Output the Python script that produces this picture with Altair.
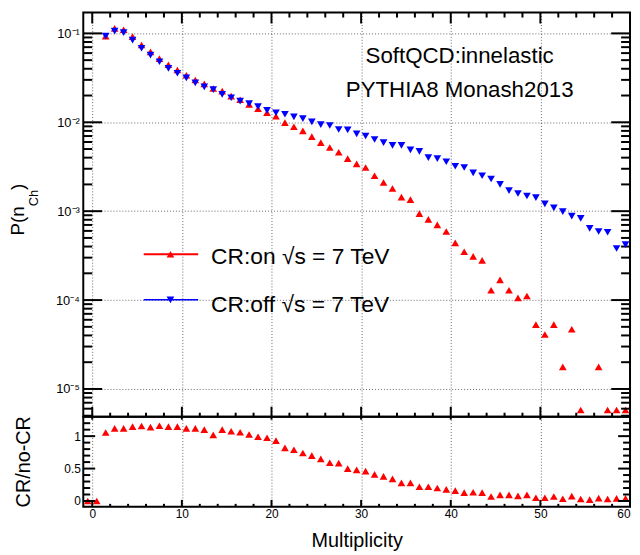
import altair as alt
import pandas as pd

# ---------------- data ----------------
multiplicity = [1.5, 2.5, 3.5, 4.5, 5.5, 6.5, 7.5, 8.5, 9.5,
                10.5, 11.5, 12.5, 13.5, 14.5, 15.5, 16.5, 17.5, 18.5, 19.5,
                20.5, 21.5, 22.5, 23.5, 24.5, 25.5, 26.5, 27.5, 28.5, 29.5,
                30.5, 31.5, 32.5, 33.5, 34.5, 35.5, 36.5, 37.5, 38.5, 39.5,
                40.5, 41.5, 42.5, 43.5, 44.5, 45.5, 46.5, 47.5, 48.5, 49.5,
                50.5, 51.5, 52.5, 53.5, 54.5, 55.5, 56.5, 57.5, 58.5, 59.5]

p_cr_on = [0.093, 0.114, 0.110, 0.092, 0.074, 0.062, 0.052, 0.0444, 0.0387,
           0.0338, 0.0299, 0.0270, 0.0240, 0.0224, 0.0197, 0.0179, 0.0159, 0.0142, 0.0128,
           0.0117, 0.0099, 0.0089, 0.0080, 0.0069, 0.0059, 0.0052, 0.0046, 0.0039, 0.0034,
           0.0031, 0.0025, 0.0021, 0.0018, 0.00144, 0.00135, 0.00094, 0.00081, 0.00070, 0.00059,
           0.00044, 0.00035, 0.00031, 0.00028, 0.000129, 0.000169, 0.000129, 0.000106, 0.000111, 5.3e-5,
           4.1e-5, 5.3e-5, 1.77e-5, 4.7e-5, 5.8e-6, None, 1.77e-5, 5.8e-6, 5.8e-6, 5.8e-6]

p_cr_off = [0.093, 0.106, 0.102, 0.084, 0.068, 0.057, 0.048, 0.0404, 0.0356,
            0.0316, 0.0277, 0.0250, 0.0233, 0.0206, 0.0189, 0.0173, 0.0162, 0.0150, 0.0136,
            0.0128, 0.0123, 0.0115, 0.0110, 0.0101, 0.0094, 0.0092, 0.0083, 0.0082, 0.0074,
            0.0070, 0.0064, 0.0059, 0.0055, 0.0055, 0.0049, 0.0047, 0.0040, 0.0039, 0.0036,
            0.0032, 0.0031, 0.0027, 0.0025, 0.0023, 0.0020, 0.00170, 0.00158, 0.00148, 0.00142,
            0.00121, 0.00109, 0.00099, 0.00088, 0.00083, 0.00064, 0.00059, 0.00058, 0.00038, 0.00042]

ratio_multiplicity = [-0.5, 0.5] + multiplicity
ratio_values = [0.0, 0.0,
                1.056, 1.12, 1.12, 1.147, 1.156, 1.14, 1.16, 1.147, 1.147,
                1.12, 1.12, 1.10, 1.02, 1.10, 1.075, 1.06, 1.025, 0.99, 0.975,
                0.93, 0.82, 0.79, 0.74, 0.70, 0.65, 0.59, 0.585, 0.50, 0.48,
                0.46, 0.41, 0.38, 0.34, 0.28, 0.28, 0.22, 0.22, 0.20, 0.18,
                0.16, 0.13, 0.135, 0.13, 0.07, 0.095, 0.095, 0.08, 0.095, 0.05,
                0.05, 0.07, 0.035, 0.076, 0.03, 0.02, 0.045, 0.03, 0.04, 0.04]

x_major_ticks = [0, 10, 20, 30, 40, 50, 60]
x_minor_ticks = [2, 4, 6, 8, 12, 14, 16, 18, 22, 24, 26, 28, 32, 34, 36, 38,
                 42, 44, 46, 48, 52, 54, 56, 58]
y_major_ticks = [1e-5, 1e-4, 1e-3, 1e-2, 1e-1]
y_minor_ticks = [m * d for d in [1e-6, 1e-5, 1e-4, 1e-3, 1e-2, 1e-1] for m in range(2, 10)]
ratio_major_ticks = [0, 0.5, 1]
ratio_minor_ticks = [0.1, 0.2, 0.3, 0.4, 0.6, 0.7, 0.8, 0.9, 1.1, 1.2]

legend_labels = ["CR:on \u221as = 7 TeV", "CR:off \u221as = 7 TeV"]
annotation_lines = ["SoftQCD:innelastic", "PYTHIA8 Monash2013"]
y_title_parts = ["P(n", "Ch", ")"]
ratio_title = "CR/no-CR"
x_title = "Multiplicity"

# ---------------- layout ----------------
W = 552
H_TOP = 408
H_RAT = 91
FONT = "Liberation Sans"
RED = "#ff0000"
BLUE = "#0000ff"
MSIZE = 60

Y_LO, Y_HI = 10 ** -5.312, 10 ** -0.766
y_minor_ticks = [v for v in y_minor_ticks if Y_LO < v < Y_HI]

xs = alt.Scale(domain=[-1, 60], nice=False, zero=False)
ys = alt.Scale(type="log", domain=[Y_LO, Y_HI], nice=False)
rs = alt.Scale(domain=[-0.09, 1.30], nice=False, zero=False)

grid_style = dict(grid=True, gridColor="#000000", gridOpacity=0.6,
                  gridDash=[1, 2], gridWidth=1)

top_df = pd.DataFrame({"m": multiplicity, "on": p_cr_on, "off": p_cr_off})
rat_df = pd.DataFrame({"m": ratio_multiplicity, "r": ratio_values})

label_expr_top = ("datum.value > 0.05 ? '10\u207b\u00b9' : datum.value > 0.005 ? '10\u207b\u00b2' : "
                  "datum.value > 0.0005 ? '10\u207b\u00b3' : datum.value > 0.00005 ? '10\u207b\u2074' : '10\u207b\u2075'")

x_axis_top = alt.Axis(values=x_major_ticks, labels=False, ticks=False, tickSize=0,
                      domain=False, title=None, **grid_style)
y_axis_top = alt.Axis(values=y_major_ticks, ticks=False, tickSize=0, domain=False, title=None,
                      labelExpr=label_expr_top, labelFontSize=13, labelPadding=4,
                      labelColor="black", **grid_style)

x_axis_rat = alt.Axis(values=x_major_ticks, ticks=False, tickSize=0, domain=False,
                      labelFontSize=12, labelPadding=2, labelColor="black", labelFlush=1,
                      title=x_title, titleFontSize=20, titleFontWeight="normal",
                      titleColor="black", titlePadding=11, **grid_style)
y_axis_rat = alt.Axis(values=ratio_major_ticks, ticks=False, tickSize=0, domain=False,
                      grid=False, labelFontSize=12, labelPadding=3, labelColor="black",
                      labelExpr="'' + datum.value", title=None)


def hticks(values, scale, axis, x0, x1):
    df = pd.DataFrame({"v": values})
    return alt.Chart(df).mark_rule(color="black", strokeWidth=2).encode(
        y=alt.Y("v:Q", scale=scale, axis=axis), x=alt.value(x0), x2=alt.value(x1))


def vticks(values, scale, axis, y0, y1):
    df = pd.DataFrame({"v": values})
    return alt.Chart(df).mark_rule(color="black", strokeWidth=2).encode(
        x=alt.X("v:Q", scale=scale, axis=axis), y=alt.value(y0), y2=alt.value(y1))


red_top = alt.Chart(top_df).mark_point(shape="triangle-up", filled=True, size=MSIZE,
                                       color=RED, opacity=1).encode(
    x=alt.X("m:Q", scale=xs, axis=x_axis_top),
    y=alt.Y("on:Q", scale=ys, axis=y_axis_top),
)
blue_top = alt.Chart(top_df).mark_point(shape="triangle-down", filled=True, size=MSIZE,
                                        color=BLUE, opacity=1).encode(
    x=alt.X("m:Q", scale=xs, axis=x_axis_top),
    y=alt.Y("off:Q", scale=ys, axis=y_axis_top),
)

one = pd.DataFrame({"k": [0]})

leg_red_line = alt.Chart(one).mark_rule(color=RED, strokeWidth=2).encode(
    x=alt.value(61), x2=alt.value(116), y=alt.value(244))
leg_red_mark = alt.Chart(one).mark_point(shape="triangle-up", filled=True, size=MSIZE,
                                         color=RED, opacity=1).encode(
    x=alt.value(88), y=alt.value(244))
leg_red_text = alt.Chart(pd.DataFrame({"t": legend_labels[:1]})).mark_text(
    align="left", baseline="alphabetic", fontSize=23, font=FONT, color="black").encode(
    x=alt.value(129), y=alt.value(254), text="t:N")
leg_blue_line = alt.Chart(one).mark_rule(color=BLUE, strokeWidth=1.5).encode(
    x=alt.value(61), x2=alt.value(116), y=alt.value(290))
leg_blue_mark = alt.Chart(one).mark_point(shape="triangle-down", filled=True, size=MSIZE,
                                          color=BLUE, opacity=1).encode(
    x=alt.value(88), y=alt.value(290))
leg_blue_text = alt.Chart(pd.DataFrame({"t": legend_labels[1:]})).mark_text(
    align="left", baseline="alphabetic", fontSize=23, font=FONT, color="black").encode(
    x=alt.value(129), y=alt.value(302), text="t:N")

ann1 = alt.Chart(pd.DataFrame({"t": annotation_lines[:1]})).mark_text(
    align="center", baseline="alphabetic", fontSize=22.5, font=FONT, color="black").encode(
    x=alt.value(380), y=alt.value(51), text="t:N")
ann2 = alt.Chart(pd.DataFrame({"t": annotation_lines[1:]})).mark_text(
    align="center", baseline="alphabetic", fontSize=22.5, font=FONT, color="black").encode(
    x=alt.value(380), y=alt.value(85), text="t:N")

yt1 = alt.Chart(pd.DataFrame({"t": y_title_parts[:1]})).mark_text(
    align="left", baseline="alphabetic", angle=270, fontSize=19, font=FONT, color="black").encode(
    x=alt.value(-60), y=alt.value(225), text="t:N")
yt2 = alt.Chart(pd.DataFrame({"t": y_title_parts[1:2]})).mark_text(
    align="left", baseline="alphabetic", angle=270, fontSize=13, font=FONT, color="black").encode(
    x=alt.value(-46), y=alt.value(195.5), text="t:N")
yt3 = alt.Chart(pd.DataFrame({"t": y_title_parts[2:]})).mark_text(
    align="left", baseline="alphabetic", angle=270, fontSize=19, font=FONT, color="black").encode(
    x=alt.value(-60), y=alt.value(179), text="t:N")

top = alt.layer(
    red_top,
    hticks(y_major_ticks, ys, y_axis_top, 0, 19), hticks(y_minor_ticks, ys, y_axis_top, 0, 9),
    hticks(y_major_ticks, ys, y_axis_top, W, W - 19), hticks(y_minor_ticks, ys, y_axis_top, W, W - 9),
    vticks(x_major_ticks, xs, x_axis_top, 0, 11), vticks(x_minor_ticks, xs, x_axis_top, 0, 5),
    vticks(x_major_ticks, xs, x_axis_top, H_TOP, H_TOP - 10),
    vticks(x_minor_ticks, xs, x_axis_top, H_TOP, H_TOP - 4),
    blue_top,
    leg_red_line, leg_red_mark, leg_red_text,
    leg_blue_line, leg_blue_mark, leg_blue_text,
    ann1, ann2, yt1, yt2, yt3,
).properties(width=W, height=H_TOP)

# ---------------- ratio panel ----------------
red_rat = alt.Chart(rat_df).mark_point(shape="triangle-up", filled=True, size=MSIZE,
                                       color=RED, opacity=1).encode(
    x=alt.X("m:Q", scale=xs, axis=x_axis_rat),
    y=alt.Y("r:Q", scale=rs, axis=y_axis_rat),
)

rt = alt.Chart(pd.DataFrame({"t": [ratio_title]})).mark_text(
    align="center", baseline="alphabetic", angle=270, fontSize=20, font=FONT, color="black").encode(
    x=alt.value(-54), y=alt.value(H_RAT / 2), text="t:N")

ratio = alt.layer(
    red_rat,
    hticks(ratio_major_ticks, rs, y_axis_rat, 0, 12), hticks(ratio_minor_ticks, rs, y_axis_rat, 0, 7),
    hticks(ratio_major_ticks, rs, y_axis_rat, W, W - 12), hticks(ratio_minor_ticks, rs, y_axis_rat, W, W - 7),
    vticks(x_major_ticks, xs, x_axis_rat, H_RAT, H_RAT - 7),
    vticks(x_minor_ticks, xs, x_axis_rat, H_RAT, H_RAT - 3),
    vticks(x_major_ticks, xs, x_axis_rat, 0, 3),
    rt,
).properties(width=W, height=H_RAT)

chart = alt.vconcat(top, ratio, spacing=0, bounds="flush",
                    padding={"left": 0, "top": 0, "right": 0, "bottom": 0},
                    background="white").configure_view(
    stroke="black", strokeWidth=2
).configure_axis(
    labelFont=FONT, titleFont=FONT
)

chart.save("out.html", embed_options={"renderer": "svg", "actions": False})
